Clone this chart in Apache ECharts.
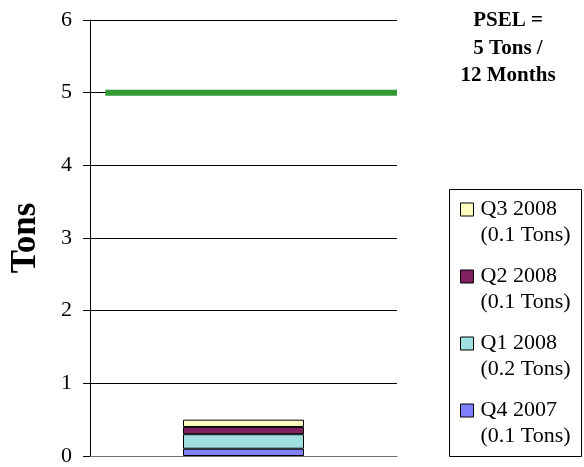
<!DOCTYPE html>
<html>
<head>
<meta charset="utf-8">
<script src="https://cdn.jsdelivr.net/npm/echarts@6/dist/echarts.min.js"></script>
<style>
  html, body { margin: 0; padding: 0; background: #fff; }
  #chart { width: 584px; height: 467px; }
</style>
</head>
<body>
<div id="chart"></div>
<script>
// stacked quarters, bottom to top
var categories = [''];
var quarters = ['Q4 2007', 'Q1 2008', 'Q2 2008', 'Q3 2008'];
var quarterTons = [0.1, 0.2, 0.1, 0.1];
var quarterColors = ['#8080ff', '#a0e0e0', '#802060', '#ffffc0'];
var legendOrder = ['Q3 2008', 'Q2 2008', 'Q1 2008', 'Q4 2007'];

// PSEL limit line (x is a 0..1 fraction across the plot)
var pselX = [0.05, 1];
var pselY = [5, 5];

var yTicks = [0, 1, 2, 3, 4, 5, 6];

var serif = '"Liberation Serif", "Times New Roman", serif';

var chart = echarts.init(document.getElementById('chart'), null, { renderer: 'canvas' });

var series = quarters.map(function (q, i) {
  return {
    name: q,
    type: 'bar',
    stack: 'tons',
    barWidth: 121,
    xAxisIndex: 0,
    itemStyle: { color: quarterColors[i], borderColor: '#000', borderWidth: 1 },
    data: [quarterTons[i]]
  };
});

series.push({
  name: 'PSEL',
  type: 'line',
  xAxisIndex: 1,
  symbol: 'none',
  lineStyle: { color: '#339933', width: 6 },
  data: pselX.map(function (x, i) { return [x, pselY[i]]; })
});

var option = {
  animation: false,
  backgroundColor: '#fff',
  title: {
    text: 'PSEL =\n5 Tons /\n12 Months',
    left: 508,
    top: 7,
    padding: 0,
    textAlign: 'center',
    textStyle: { fontFamily: serif, fontWeight: 'bold', fontSize: 21, lineHeight: 27.5, color: '#000' }
  },
  // legend frame
  graphic: [{
    type: 'rect',
    shape: { x: 449.5, y: 189.5, width: 132, height: 267 },
    style: { fill: 'none', stroke: '#000', lineWidth: 1 },
    silent: true
  }],
  legend: {
    data: legendOrder,
    orient: 'vertical',
    left: 460,
    top: 170.5,
    padding: 0,
    itemGap: -11,
    itemWidth: 13,
    itemHeight: 13,
    icon: 'rect',
    selectedMode: false,
    itemStyle: { borderColor: '#000', borderWidth: 1 },
    formatter: function (name) {
      var i = quarters.indexOf(name);
      return name + '\n(' + quarterTons[i] + ' Tons)';
    },
    textStyle: {
      fontFamily: serif, fontSize: 22, lineHeight: 26, color: '#000',
      padding: [26, 0, 0, 2], rich: {}
    }
  },
  grid: { left: 90, top: 20, right: 187, bottom: 9, containLabel: false },
  xAxis: [{
    type: 'category',
    data: categories,
    axisLine: { show: true, lineStyle: { color: '#707070', width: 1 } },
    axisTick: { show: false },
    axisLabel: { show: false },
    splitLine: { show: false }
  }, {
    type: 'value',
    min: 0,
    max: 1,
    show: false
  }],
  yAxis: {
    type: 'value',
    min: yTicks[0],
    max: yTicks[yTicks.length - 1],
    interval: 1,
    name: 'Tons',
    nameLocation: 'middle',
    nameRotate: 90,
    nameGap: 47,
    nameTextStyle: { fontFamily: serif, fontWeight: 'bold', fontSize: 35, color: '#000' },
    axisLine: { show: true, lineStyle: { color: '#000', width: 1 } },
    axisTick: { show: true, inside: false, length: 7, lineStyle: { color: '#000' } },
    axisLabel: { fontFamily: serif, fontSize: 22, color: '#000', margin: 18 },
    splitLine: { show: true, lineStyle: { color: '#000', width: 1 } }
  },
  series: series
};

chart.setOption(option);
</script>
</body>
</html>
